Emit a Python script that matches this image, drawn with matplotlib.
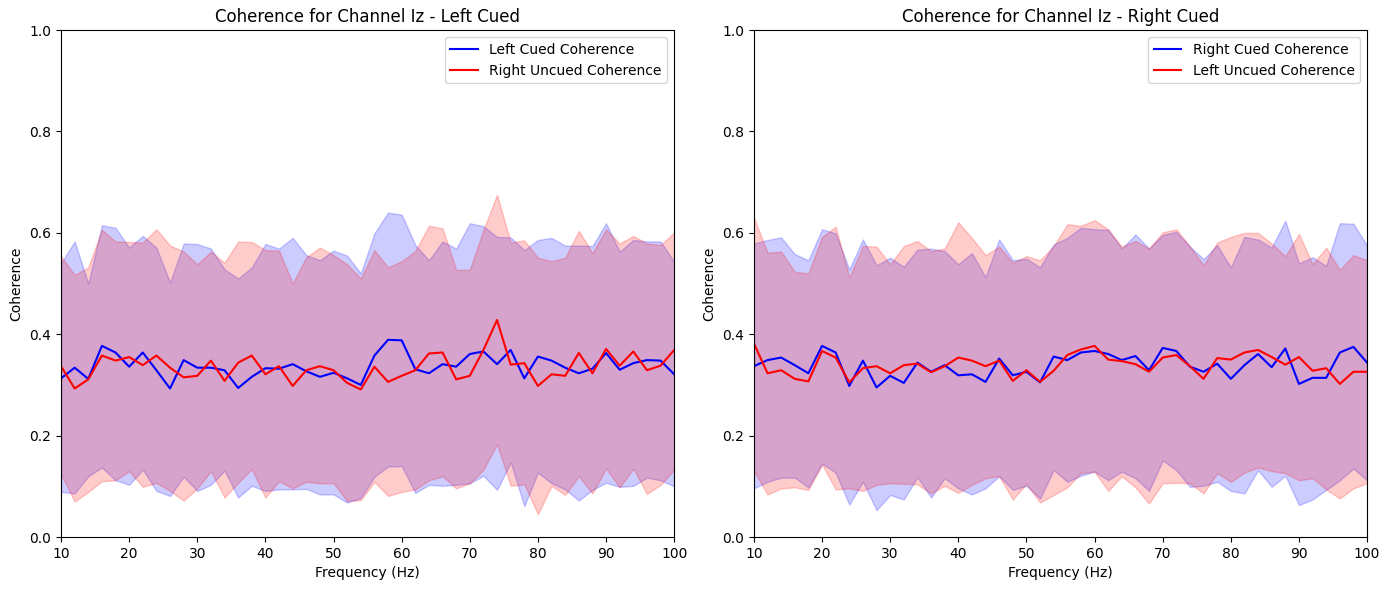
import matplotlib
matplotlib.use("Agg")
import matplotlib.pyplot as plt
import numpy as np

freqs = np.arange(10, 101, 2)

# Left cued panel
left_cued_mean = [0.313, 0.334, 0.312, 0.377, 0.364, 0.336, 0.364, 0.329, 0.293, 0.349,
                  0.334, 0.334, 0.329, 0.294, 0.316, 0.333, 0.332, 0.341, 0.327, 0.316,
                  0.324, 0.313, 0.300, 0.358, 0.389, 0.388, 0.331, 0.323, 0.341, 0.336,
                  0.361, 0.366, 0.341, 0.369, 0.313, 0.356, 0.348, 0.334, 0.323, 0.332,
                  0.363, 0.330, 0.343, 0.349, 0.348, 0.321]
left_cued_upper = [0.540, 0.583, 0.500, 0.615, 0.610, 0.571, 0.594, 0.571, 0.502, 0.579,
                   0.578, 0.569, 0.528, 0.510, 0.532, 0.578, 0.569, 0.590, 0.556, 0.546,
                   0.565, 0.555, 0.520, 0.599, 0.640, 0.636, 0.576, 0.546, 0.583, 0.569,
                   0.619, 0.613, 0.592, 0.591, 0.566, 0.586, 0.590, 0.575, 0.575, 0.574,
                   0.619, 0.563, 0.586, 0.583, 0.583, 0.543]
left_cued_lower = [0.089, 0.086, 0.120, 0.137, 0.112, 0.103, 0.133, 0.091, 0.081, 0.119,
                   0.091, 0.103, 0.131, 0.078, 0.101, 0.091, 0.094, 0.094, 0.095, 0.084,
                   0.084, 0.068, 0.077, 0.119, 0.139, 0.140, 0.087, 0.103, 0.101, 0.103,
                   0.106, 0.121, 0.093, 0.147, 0.061, 0.127, 0.106, 0.094, 0.072, 0.093,
                   0.107, 0.099, 0.101, 0.117, 0.112, 0.100]
right_uncued_mean = [0.337, 0.293, 0.311, 0.358, 0.348, 0.355, 0.339, 0.358, 0.334, 0.315,
                     0.318, 0.348, 0.308, 0.344, 0.358, 0.321, 0.337, 0.298, 0.329, 0.337,
                     0.329, 0.304, 0.291, 0.336, 0.306, 0.318, 0.329, 0.362, 0.364, 0.311,
                     0.318, 0.369, 0.428, 0.340, 0.343, 0.298, 0.321, 0.318, 0.363, 0.323,
                     0.371, 0.338, 0.366, 0.329, 0.338, 0.369]
right_uncued_upper = [0.554, 0.517, 0.532, 0.606, 0.583, 0.582, 0.581, 0.607, 0.575, 0.563,
                      0.538, 0.563, 0.541, 0.583, 0.582, 0.566, 0.565, 0.500, 0.552, 0.571,
                      0.556, 0.538, 0.510, 0.566, 0.532, 0.544, 0.564, 0.614, 0.609, 0.527,
                      0.527, 0.606, 0.675, 0.581, 0.585, 0.551, 0.544, 0.551, 0.604, 0.560,
                      0.607, 0.579, 0.594, 0.579, 0.576, 0.601]
right_uncued_lower = [0.124, 0.070, 0.089, 0.110, 0.112, 0.130, 0.099, 0.107, 0.091, 0.072,
                      0.096, 0.130, 0.078, 0.107, 0.134, 0.078, 0.110, 0.096, 0.109, 0.106,
                      0.106, 0.071, 0.073, 0.109, 0.081, 0.089, 0.094, 0.112, 0.120, 0.096,
                      0.106, 0.133, 0.183, 0.101, 0.104, 0.045, 0.101, 0.083, 0.120, 0.086,
                      0.135, 0.098, 0.135, 0.085, 0.103, 0.133]

# Right cued panel
right_cued_mean = [0.337, 0.349, 0.354, 0.339, 0.323, 0.377, 0.364, 0.298, 0.348, 0.295,
                   0.318, 0.304, 0.344, 0.326, 0.339, 0.319, 0.321, 0.306, 0.352, 0.319,
                   0.326, 0.305, 0.356, 0.349, 0.364, 0.367, 0.361, 0.349, 0.357, 0.329,
                   0.373, 0.367, 0.336, 0.326, 0.342, 0.312, 0.339, 0.361, 0.335, 0.372,
                   0.302, 0.314, 0.314, 0.364, 0.375, 0.344]
right_cued_upper = [0.579, 0.586, 0.591, 0.558, 0.546, 0.607, 0.599, 0.528, 0.587, 0.536,
                    0.551, 0.533, 0.567, 0.569, 0.564, 0.538, 0.560, 0.513, 0.587, 0.546,
                    0.549, 0.532, 0.577, 0.590, 0.610, 0.607, 0.606, 0.569, 0.597, 0.569,
                    0.596, 0.602, 0.573, 0.548, 0.576, 0.532, 0.592, 0.587, 0.571, 0.624,
                    0.540, 0.552, 0.535, 0.619, 0.618, 0.575]
right_cued_lower = [0.096, 0.109, 0.117, 0.117, 0.098, 0.145, 0.127, 0.064, 0.109, 0.053,
                    0.083, 0.074, 0.118, 0.078, 0.116, 0.096, 0.084, 0.096, 0.120, 0.093,
                    0.101, 0.076, 0.132, 0.109, 0.121, 0.129, 0.112, 0.129, 0.116, 0.091,
                    0.151, 0.132, 0.099, 0.101, 0.109, 0.091, 0.086, 0.132, 0.099, 0.121,
                    0.063, 0.074, 0.093, 0.112, 0.135, 0.112]
left_uncued_mean = [0.382, 0.323, 0.329, 0.312, 0.307, 0.367, 0.354, 0.305, 0.333, 0.337,
                    0.323, 0.339, 0.342, 0.325, 0.337, 0.354, 0.348, 0.337, 0.348, 0.308,
                    0.329, 0.306, 0.328, 0.359, 0.370, 0.377, 0.350, 0.347, 0.341, 0.326,
                    0.354, 0.359, 0.337, 0.312, 0.353, 0.350, 0.364, 0.369, 0.355, 0.340,
                    0.355, 0.328, 0.333, 0.302, 0.326, 0.326]
left_uncued_upper = [0.630, 0.561, 0.563, 0.523, 0.520, 0.592, 0.612, 0.512, 0.574, 0.573,
                     0.538, 0.574, 0.584, 0.564, 0.569, 0.621, 0.590, 0.556, 0.573, 0.541,
                     0.554, 0.546, 0.574, 0.617, 0.614, 0.625, 0.607, 0.573, 0.584, 0.569,
                     0.601, 0.607, 0.573, 0.536, 0.581, 0.592, 0.600, 0.600, 0.579, 0.554,
                     0.598, 0.538, 0.571, 0.527, 0.556, 0.546]
left_uncued_lower = [0.130, 0.084, 0.096, 0.098, 0.093, 0.143, 0.094, 0.096, 0.091, 0.103,
                     0.106, 0.105, 0.104, 0.086, 0.101, 0.087, 0.103, 0.116, 0.120, 0.074,
                     0.105, 0.068, 0.083, 0.098, 0.126, 0.129, 0.091, 0.120, 0.098, 0.066,
                     0.106, 0.107, 0.106, 0.086, 0.126, 0.109, 0.127, 0.137, 0.130, 0.126,
                     0.112, 0.116, 0.094, 0.076, 0.096, 0.106]

panels = [
    ("Coherence for Channel Iz - Left Cued",
     ("Left Cued Coherence", left_cued_mean, left_cued_lower, left_cued_upper),
     ("Right Uncued Coherence", right_uncued_mean, right_uncued_lower, right_uncued_upper)),
    ("Coherence for Channel Iz - Right Cued",
     ("Right Cued Coherence", right_cued_mean, right_cued_lower, right_cued_upper),
     ("Left Uncued Coherence", left_uncued_mean, left_uncued_lower, left_uncued_upper)),
]

fig, axes = plt.subplots(1, 2, figsize=(13.9, 5.9), dpi=100)
fig.subplots_adjust(left=0.0439, right=0.9835, bottom=0.0898, top=0.949, wspace=0.13)

for ax, (title, cued, uncued) in zip(axes, panels):
    for (label, mean, lo, hi), col in ((cued, "blue"), (uncued, "red")):
        ax.plot(freqs, mean, color=col, label=label)
        ax.fill_between(freqs, lo, hi, color=col, alpha=0.2)
    ax.set_xlim(10, 100)
    ax.set_ylim(0, 1)
    ax.set_title(title)
    ax.set_xlabel("Frequency (Hz)")
    ax.set_ylabel("Coherence")
    ax.legend(loc="upper right")

plt.savefig("out.png")
